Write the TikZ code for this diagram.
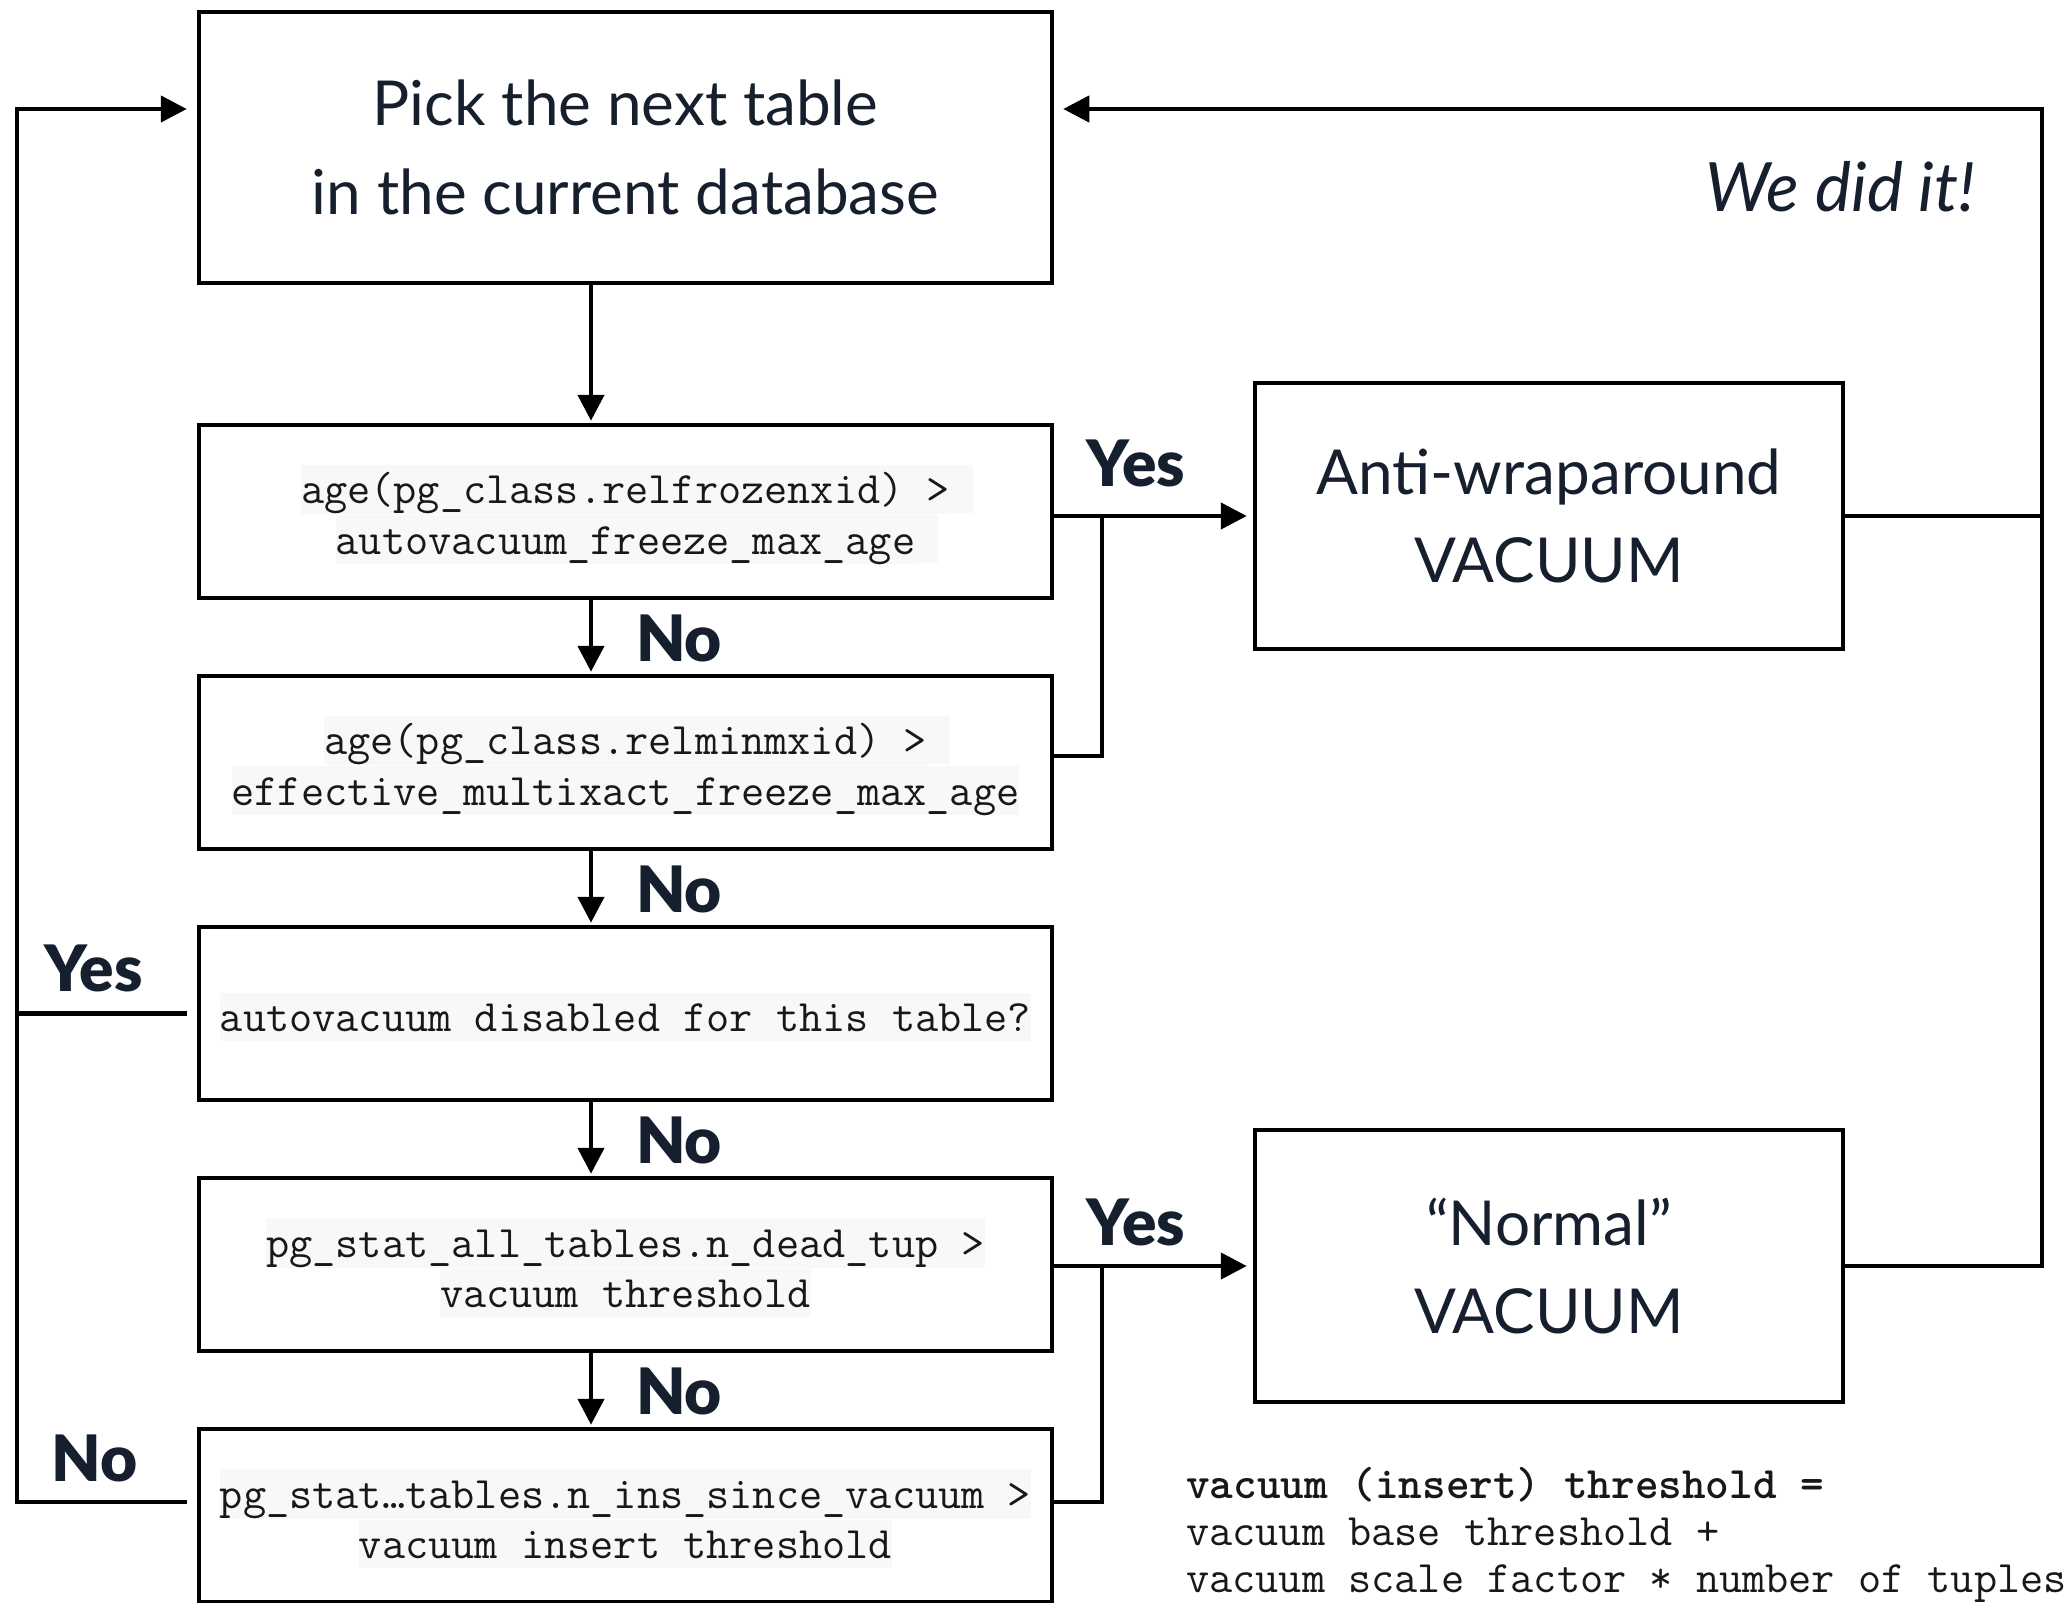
\documentclass[tikz,border=0pt]{standalone}
\usepackage{fontspec}
\usetikzlibrary{arrows.meta,calc}
\newfontfamily\heavyf{Lato Black}
\newfontfamily\latof{Lato}
\definecolor{ink}{RGB}{22,31,46}
\definecolor{codebg}{RGB}{246,248,250}
\definecolor{codeink}{RGB}{24,24,24}
\setlength{\fboxsep}{0pt}
% one highlighted code line
\newcommand{\cln}[1]{\colorbox{codebg}{\rule[-9pt]{0pt}{48pt}#1}}
% highlighted code line whose trailing space sticks out to the right
\newcommand{\clt}[1]{\cln{#1}\rlap{\cln{\ }}}
% pushes the block down a little
\newcommand{\dn}{\rule{0pt}{45pt}}
\newcommand{\codefont}{\ttfamily\fontsize{45pt}{48pt}\selectfont}
\newcommand{\formfont}{\ttfamily\fontsize{45pt}{47pt}\selectfont}
\newcommand{\mainfont}{\latof\fontsize{62pt}{88.5pt}\selectfont}
\newcommand{\lblfont}{\heavyf\fontsize{64pt}{64pt}\selectfont}
\begin{document}
\begin{tikzpicture}[x=1pt,y=-1pt,
  box/.style={draw=black, line width=4.5pt, minimum width=853pt, inner sep=0pt, align=center},
  bigbox/.style={draw=black, line width=4.5pt, minimum width=588pt, inner sep=0pt, align=center, font=\mainfont, text=ink},
  codebox/.style={box, minimum height=173pt, font=\codefont, text=codeink},
  lbl/.style={font=\lblfont, text=ink, inner sep=0pt},
  conn/.style={line width=4.5pt, line join=miter},
  arr/.style={conn, -{Triangle[length=26pt,width=26pt]}, shorten >=2pt}
]
\useasboundingbox (0,0) rectangle (2066,1603);
\clip (0,0) rectangle (2066,1603);
\fill[white] (0,0) rectangle (2066,1603);

% helper coordinates
\coordinate (vx) at (591,0);
\coordinate (jx) at (1102,0);
\coordinate (rx) at (2042,0);
\coordinate (lx) at (17,0);
\coordinate (ty) at (0,109);

% boxes
\node[box, minimum height=271pt, font=\mainfont, text=ink] (top) at (625.5,147.5)
  {Pick the next table\\in the current database};
\node[codebox] (b2) at (625.5,511.5)
  {\dn\clt{age(pg\_class.relfrozenxid) >}\\\clt{autovacuum\_freeze\_max\_age}};
\node[codebox] (b3) at (625.5,762.5)
  {\dn\clt{age(pg\_class.relminmxid) >}\\\cln{effective\_multixact\_freeze\_max\_age}};
\node[codebox] (b4) at (625.5,1013.5)
  {\dn\cln{autovacuum disabled for this table?}};
\node[codebox] (b5) at (625.5,1264.5)
  {\dn\cln{pg\_stat\_all\_tables.n\_dead\_tup >}\\\cln{vacuum threshold}};
\node[codebox] (b6) at (625.5,1515.5)
  {\dn\cln{pg\_stat…tables.n\_ins\_since\_vacuum >}\\\cln{vacuum insert threshold}};
\node[bigbox, minimum height=266pt] (anti) at (1549,516) {Anti-wraparound\\VACUUM};
\node[bigbox, minimum height=272pt] (norm) at (1549,1266) {“Normal”\\VACUUM};

% labels
\node[lbl] (no1) at (679,638) {No};
\node[lbl] (no2) at (679,889) {No};
\node[lbl] (no3) at (679,1140) {No};
\node[lbl] (no4) at (679,1391) {No};
\node[lbl] (yes1) at (1136,463.5) {Yes};
\node[lbl] (yes2) at (1136,1222) {Yes};
\node[lbl] (yes3) at (93.5,968) {Yes};
\node[lbl] (no5) at (94.5,1458) {No};
\node[font={\latof\itshape\fontsize{68pt}{68pt}\selectfont}, text=ink, inner sep=0pt, anchor=base east] (did) at (1976,211) {We did it!};
\node[font=\formfont, text=codeink, inner sep=0pt, anchor=west, align=left] (formula) at (1186,1535)
  {\textbf{vacuum (insert) threshold =}\\vacuum base threshold +\\vacuum scale factor * number of tuples};

% vertical arrows down the column
\draw[arr] (top.south -| vx) -- (b2.north -| vx);
\draw[arr] (b2.south -| vx) -- (b3.north -| vx);
\draw[arr] (b3.south -| vx) -- (b4.north -| vx);
\draw[arr] (b4.south -| vx) -- (b5.north -| vx);
\draw[arr] (b5.south -| vx) -- (b6.north -| vx);

% yes branches to anti-wraparound
\draw[arr, shorten >=6pt] (b2.east |- anti.west) -- (anti.west);
\draw[conn] ($(b3.east)+(0,-6.5)$) -| (jx |- anti.west);

% yes branches to normal vacuum
\draw[arr, shorten >=6pt] (b5.east |- norm.west) -- (norm.west);
\draw[conn] ($(b6.east)+(0,-13.5)$) -| (jx |- norm.west);

% right loop back to top
\draw[arr, shorten >=9pt] (anti.east) -| (rx |- ty) -- (top.east |- ty);
\draw[conn] (norm.east) -| (rx |- anti.east);

% left loop back to top
\draw[arr, shorten >=10pt] ($(b6.west)+(-10,-13.5)$) -| (lx |- ty) -- (top.west |- ty);
\draw[conn] ($(b4.west)+(-10,0)$) -- (lx |- b4.west);
\end{tikzpicture}
\end{document}
